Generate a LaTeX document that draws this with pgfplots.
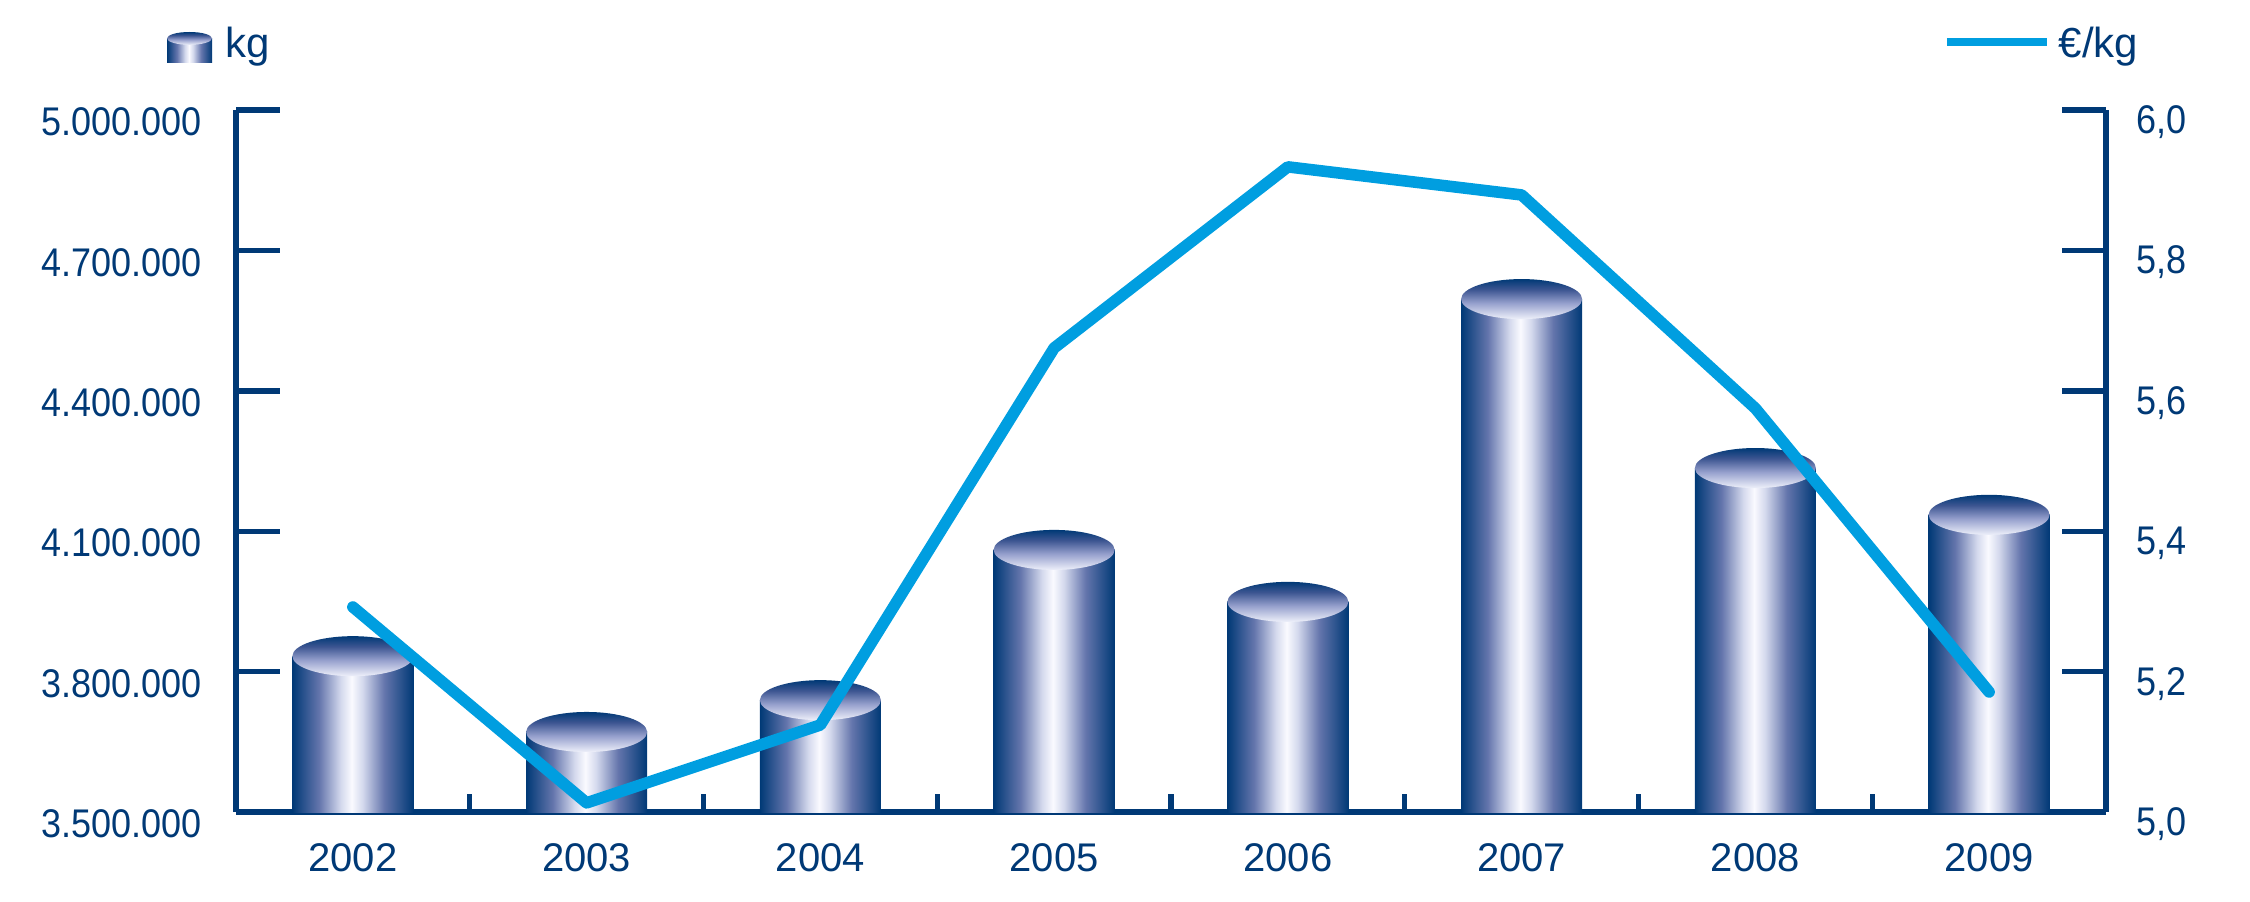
\documentclass[border=0pt]{standalone}
\usepackage{pgfplots}
\usepackage{pgfplotstable}
\pgfplotsset{compat=1.18}
\usepackage{fontspec}
\setmainfont{Liberation Sans}
\newfontfamily\narrowfont[FakeStretch=0.9]{Liberation Sans}
\definecolor{navy}{RGB}{0,57,118}
\definecolor{lblue}{RGB}{0,158,224}
\definecolor{cmid}{RGB}{100,117,172}
\definecolor{clight}{RGB}{212,217,237}
\definecolor{cwhite}{RGB}{250,250,255}
\definecolor{capbot}{RGB}{238,240,250}
\definecolor{capmid}{RGB}{150,160,205}
\definecolor{capdark}{RGB}{60,85,145}
\pgfdeclarehorizontalshading{cyl}{100bp}{color(0bp)=(navy); color(25bp)=(navy); color(36bp)=(cmid); color(45bp)=(clight); color(49.5bp)=(cwhite); color(54bp)=(clight); color(63bp)=(cmid); color(75bp)=(navy); color(100bp)=(navy)}
\pgfdeclareverticalshading{capshade}{100bp}{color(0bp)=(capbot); color(25bp)=(capbot); color(45bp)=(capmid); color(62bp)=(capdark); color(75bp)=(navy); color(100bp)=(navy)}
\pgfdeclareplotmark{cylcap}{%
  \pgfpathellipse{\pgfpointorigin}{\pgfqpoint{15.125pt}{0pt}}{\pgfqpoint{0pt}{5pt}}%
  \pgfshadepath{capshade}{0}%
  \pgfusepath{discard}%
}
\pgfplotstableread{
x kg eur
0 3833000 5.292
1 3671000 5.013
2 3739000 5.124
3 4060000 5.661
4 3949000 5.919
5 4596000 5.879
6 4235000 5.575
7 4135000 5.171
}\datatable
\begin{document}
\begin{tikzpicture}
\path[use as bounding box] (0,0) rectangle (562.5pt,225.25pt);
\begin{axis}[
  name=ax, at={(59pt,22.25pt)}, anchor=south west,
  width=467.5pt, height=175.5pt, scale only axis,
  xmin=-0.5, xmax=7.5, ymin=3500000, ymax=5000000,
  scaled y ticks=false,
  axis x line*=bottom, axis y line*=left,
  axis line style={navy, line width=1.35pt},
  xtick={0,...,7}, xticklabels={2002,2003,2004,2005,2006,2007,2008,2009},
  minor xtick={0.5,1.5,2.5,3.5,4.5,5.5,6.5},
  ytick={3500000,3800000,4100000,4400000,4700000,5000000},
  yticklabels={3.500.000,3.800.000,4.100.000,4.400.000,4.700.000,5.000.000},
  tick align=inside,
  major tick length=11pt, minor tick length=4.5pt,
  every tick/.style={navy, line width=1.35pt},
  major x tick style={draw=none},
  /pgf/number format/assume math mode=true,
  xticklabel style={font=\fontsize{10}{12}\selectfont, text=navy, yshift=-4.4pt},
  yticklabel style={font=\narrowfont\fontsize{10}{12}\selectfont, text=navy, xshift=-5pt, yshift=-3pt},
]
\pgfplotsinvokeforeach{0,...,7}{
  \addplot[ybar, bar width=30.25pt, bar shift=0pt, draw=none, shade, shading=cyl, forget plot,
    restrict x to domain=#1:#1] table[x=x, y=kg] {\datatable};
}
\addplot[only marks, mark=cylcap, forget plot] table[x=x, y=kg] {\datatable};
\end{axis}
\begin{axis}[
  at={(59pt,22.25pt)}, anchor=south west,
  width=467.5pt, height=175.5pt, scale only axis,
  xmin=-0.5, xmax=7.5, ymin=5, ymax=6,
  axis x line=none, axis y line*=right,
  axis line style={navy, line width=1.35pt},
  ytick={5,5.2,5.4,5.6,5.8,6},
  yticklabels={{5,0},{5,2},{5,4},{5,6},{5,8},{6,0}},
  tick align=inside,
  major tick length=11pt,
  every tick/.style={navy, line width=1.35pt},
  /pgf/number format/assume math mode=true,
  yticklabel style={font=\narrowfont\fontsize{10}{12}\selectfont, text=navy, xshift=4pt, yshift=-3pt},
]
\addplot[lblue, line width=2.9pt, line cap=round, line join=round, mark=none] table[x=x, y=eur] {\datatable};
\end{axis}
\shade[shading=cyl] ([xshift=-17.25pt, yshift=11.75pt]ax.north west) rectangle ([xshift=-6pt, yshift=17.9pt]ax.north west);
\shade[shading=capshade] ([xshift=-11.625pt, yshift=17.9pt]ax.north west) ellipse [x radius=5.625pt, y radius=1.6pt];
\node[anchor=base west, inner sep=0pt, text=navy, font=\fontsize{10.5}{12}\selectfont] at ([xshift=-2.75pt, yshift=13pt]ax.north west) {kg};
\draw[lblue, line width=2pt] ([xshift=-39.75pt, yshift=17pt]ax.north east) -- ([xshift=-14.75pt, yshift=17pt]ax.north east);
\node[anchor=base west, inner sep=0pt, text=navy, font=\fontsize{10.5}{12}\selectfont] at ([xshift=-12pt, yshift=13pt]ax.north east) {€/kg};
\end{tikzpicture}
\end{document}
